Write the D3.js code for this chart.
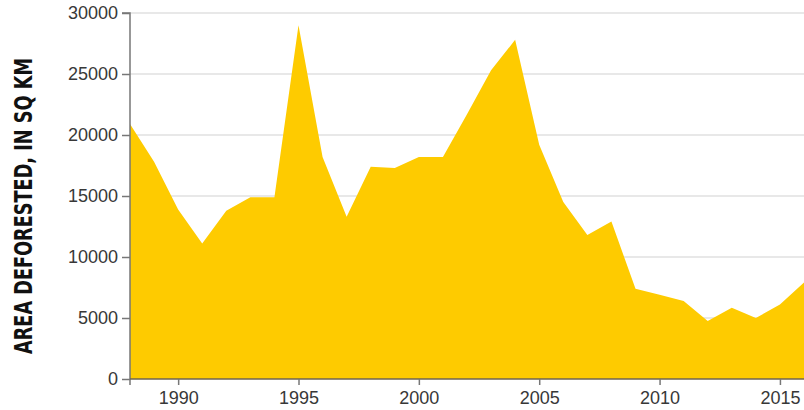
<!DOCTYPE html>
<html>
<head>
<meta charset="utf-8">
<script src="https://cdn.jsdelivr.net/npm/d3@7"></script>
<style>
  html, body { margin: 0; padding: 0; background: #fff; }
  svg { display: block; }
</style>
</head>
<body>
<svg id="chart" width="804" height="410"></svg>
<script>
// Annual deforestation, square kilometres
const years = [1988, 1989, 1990, 1991, 1992, 1993, 1994, 1995, 1996, 1997,
               1998, 1999, 2000, 2001, 2002, 2003, 2004, 2005, 2006, 2007,
               2008, 2009, 2010, 2011, 2012, 2013, 2014, 2015, 2016];
const areaKm2 = [20900, 17800, 13900, 11100, 13800, 14900, 14900, 29000, 18200, 13300,
                 17400, 17300, 18200, 18200, 21700, 25300, 27800, 19200, 14500, 11800,
                 12900, 7400, 6900, 6400, 4750, 5850, 5000, 6100, 7900];
const yTicks = [0, 5000, 10000, 15000, 20000, 25000, 30000];
const xTicks = [1990, 1995, 2000, 2005, 2010, 2015];
const yTitle = "AREA DEFORESTED, IN SQ KM";

const data = years.map((yr, i) => ({ year: yr, value: areaKm2[i] }));

const svg = d3.select("#chart");
const plotLeft = 130, plotRight = 804, plotTop = 13, plotBottom = 379;

const x = d3.scaleLinear().domain([1988, 2016]).range([plotLeft, plotRight]);
const y = d3.scaleLinear().domain([0, 30000]).range([plotBottom, plotTop]);

// horizontal gridlines
svg.append("g")
  .selectAll("line")
  .data(yTicks.filter(d => d > 0))
  .join("line")
  .attr("x1", plotLeft).attr("x2", plotRight)
  .attr("y1", d => y(d)).attr("y2", d => y(d))
  .attr("stroke", "#e0e0e0")
  .attr("stroke-width", 1.5);

// filled area
const area = d3.area()
  .x(d => x(d.year))
  .y0(y(0))
  .y1(d => y(d.value));

svg.append("path")
  .datum(data)
  .attr("d", area)
  .attr("fill", "#fecb00");

// y axis
const yAxis = svg.append("g")
  .attr("transform", `translate(${plotLeft},0)`)
  .call(d3.axisLeft(y).tickValues(yTicks).tickSize(8).tickPadding(4).tickFormat(d3.format("d")));
yAxis.select(".domain").attr("stroke", "#777").attr("stroke-width", 1.5)
  .attr("d", `M-8,${y(30000)}H0V${plotBottom + 6}`);
yAxis.selectAll(".tick line").attr("stroke", "#777").attr("stroke-width", 1.5);
yAxis.selectAll(".tick text")
  .attr("fill", "#383838")
  .style("font-family", "'Liberation Sans', Arial, sans-serif")
  .style("font-size", "18px");

// x axis
const xAxis = svg.append("g")
  .attr("transform", `translate(0,${plotBottom})`)
  .call(d3.axisBottom(x).tickValues(xTicks).tickSize(6).tickPadding(6).tickFormat(d3.format("d")));
xAxis.select(".domain").attr("stroke", "#6f6550").attr("stroke-width", 1.5)
  .attr("d", `M${plotLeft},0H${plotRight}`);
xAxis.selectAll(".tick line").attr("stroke", "#777").attr("stroke-width", 1.5);
xAxis.selectAll(".tick text")
  .attr("fill", "#383838")
  .style("font-family", "'Liberation Sans', Arial, sans-serif")
  .style("font-size", "18px");

// y axis title
svg.append("text")
  .attr("transform", "translate(32,206) rotate(-90)")
  .attr("text-anchor", "middle")
  .attr("textLength", 296)
  .attr("lengthAdjust", "spacingAndGlyphs")
  .attr("fill", "#111")
  .style("font-family", "'Liberation Sans Narrow', 'DejaVu Sans Condensed', sans-serif")
  .style("font-weight", "bold")
  .style("font-size", "25px")
  .text(yTitle);
</script>
</body>
</html>
